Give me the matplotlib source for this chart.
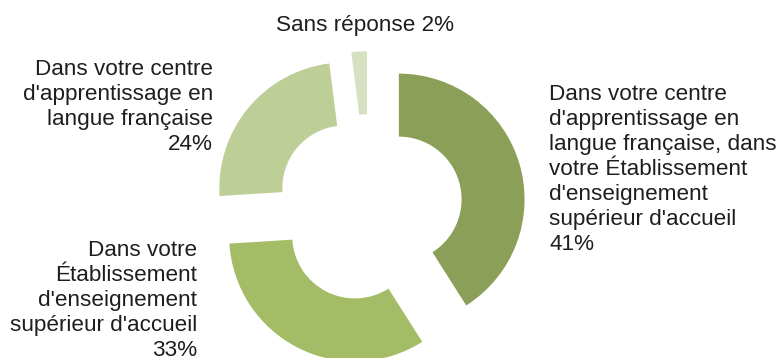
import matplotlib.pyplot as plt

plt.rcParams['font.family'] = ['Liberation Sans', 'DejaVu Sans']

# Donnees du graphique
categories = [
    "Dans votre centre\nd'apprentissage en\nlangue française, dans\nvotre Établissement\nd'enseignement\nsupérieur d'accueil",
    "Dans votre\nÉtablissement\nd'enseignement\nsupérieur d'accueil",
    "Dans votre centre\nd'apprentissage en\nlangue française",
    "Sans réponse",
]
valeurs = [41, 33, 24, 2]
colores = ['#8c9f58', '#a3bc65', '#bdce97', '#d5e1c1']

fig = plt.figure(figsize=(7.76, 3.58), dpi=100)
ax = fig.add_axes([0, 0, 1, 1])

# donut eclate, en unites de pixels (explode en unites absolues)
ax.pie(valeurs, colors=colores, startangle=90, counterclock=False,
       center=(369, 150), radius=125.7, explode=[31.1] * 4,
       wedgeprops=dict(width=63, edgecolor='none', linewidth=0))

ax.set_xlim(0, 776)
ax.set_ylim(0, 358)
ax.set_aspect('equal', adjustable='box')
ax.axis('off')

textos = [f"{c}\n{v}%" if i < 3 else f"{c} {v}%" for i, (c, v) in enumerate(zip(categories, valeurs))]
estilo = dict(fontsize=16.2, color='#1e1e1e', linespacing=1.245, va='baseline')

# va='baseline' -> baseline de la derniere ligne
ax.text(549, 358 - 250, textos[0], ha='left', multialignment='left', **estilo)
ax.text(197, 358 - 356, textos[1], ha='right', multialignment='right', **estilo)
ax.text(213, 358 - 150, textos[2], ha='right', multialignment='right', **estilo)
ax.text(365, 358 - 31, textos[3], ha='center', **estilo)

fig.savefig('out.png', dpi=100)
